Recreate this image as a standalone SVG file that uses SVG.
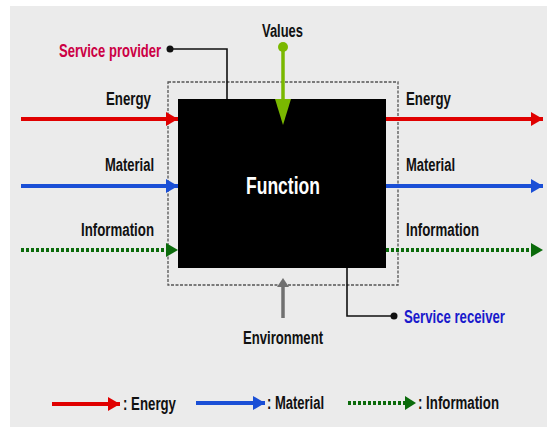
<svg xmlns="http://www.w3.org/2000/svg" width="554" height="427" viewBox="0 0 554 427">
<defs>
<style>
text{font-family:"Liberation Sans",Arial,sans-serif;font-weight:bold;font-size:18px;fill:#111}
.red{stroke:#e00000;stroke-width:4;fill:none}
.blue{stroke:#1a4fd6;stroke-width:4;fill:none}
.grn{stroke:#0b6b0b;stroke-width:4;stroke-dasharray:3,2;fill:none}
.thin{stroke:#111;stroke-width:1.6;fill:none}
</style>
<marker id="ar" markerUnits="userSpaceOnUse" markerWidth="12" markerHeight="14" refX="12" refY="7" orient="auto"><path d="M0,0 L12,7 L0,14 z" fill="#e00000"/></marker>
<marker id="ab" markerUnits="userSpaceOnUse" markerWidth="12" markerHeight="14" refX="12" refY="7" orient="auto"><path d="M0,0 L12,7 L0,14 z" fill="#1a4fd6"/></marker>
</defs>
<rect x="0" y="0" width="554" height="427" fill="#fff"/>
<rect x="10" y="6" width="537" height="421" fill="#ebebeb"/>

<g id="boundary"><rect x="168" y="82" width="230" height="203" fill="none" stroke="#555" stroke-width="1.3" stroke-dasharray="3,1.5"/></g>
<g id="function"><rect x="178" y="99" width="208" height="169" fill="#000"/>
<text x="246" y="194" textLength="74" lengthAdjust="spacingAndGlyphs" style="fill:#fff;font-size:23px">Function</text></g>

<g id="connectors">
<line class="red" x1="21" y1="119" x2="178" y2="119" marker-end="url(#ar)"/>
<line class="red" x1="386" y1="119" x2="543" y2="119" marker-end="url(#ar)"/>
<line class="blue" x1="21" y1="186" x2="178" y2="186" marker-end="url(#ab)"/>
<line class="blue" x1="386" y1="186" x2="543" y2="186" marker-end="url(#ab)"/>
<line class="grn" x1="21" y1="250" x2="167" y2="250"/>
<path d="M166,243 L178,250 L166,257 z" fill="#0b6b0b"/>
<line class="grn" x1="386" y1="250" x2="532" y2="250"/>
<path d="M531,243 L543,250 L531,257 z" fill="#0b6b0b"/>
<polyline class="thin" points="170,49 227,49 227,99"/>
<circle cx="170" cy="49" r="3.5" fill="#111"/>
<line x1="283" y1="47" x2="283" y2="102" stroke="#7ab800" stroke-width="3.5"/>
<circle cx="283" cy="47" r="5" fill="#7ab800"/>
<path d="M275,99 L291,99 L283,125 z" fill="#7ab800"/>
<line x1="283" y1="318" x2="283" y2="286" stroke="#707070" stroke-width="3.5"/>
<path d="M277,287 L283,278 L289,287 z" fill="#707070"/>
<polyline class="thin" points="347,268 347,316 393,316"/>
<circle cx="394" cy="316" r="3.5" fill="#111"/>
</g>

<g id="labels">
<text x="106" y="105" textLength="45" lengthAdjust="spacingAndGlyphs">Energy</text>
<text x="105" y="171" textLength="49" lengthAdjust="spacingAndGlyphs">Material</text>
<text x="81" y="236" textLength="73" lengthAdjust="spacingAndGlyphs">Information</text>
<text x="406" y="105" textLength="45" lengthAdjust="spacingAndGlyphs">Energy</text>
<text x="406" y="171" textLength="49" lengthAdjust="spacingAndGlyphs">Material</text>
<text x="406" y="236" textLength="73" lengthAdjust="spacingAndGlyphs">Information</text>
<text x="59" y="57" textLength="102" lengthAdjust="spacingAndGlyphs" style="fill:#cc0044">Service provider</text>
<text x="262" y="37" textLength="41" lengthAdjust="spacingAndGlyphs">Values</text>
<text x="243" y="344" textLength="80" lengthAdjust="spacingAndGlyphs">Environment</text>
<text x="404" y="323" textLength="101" lengthAdjust="spacingAndGlyphs" style="fill:#1a1acc">Service receiver</text>
</g>

<g id="legend">
<line class="red" x1="52" y1="404" x2="120" y2="404" marker-end="url(#ar)"/>
<text x="123" y="410" textLength="53" lengthAdjust="spacingAndGlyphs">: Energy</text>
<line class="blue" x1="196" y1="403" x2="265" y2="403" marker-end="url(#ab)"/>
<text x="267" y="409" textLength="57" lengthAdjust="spacingAndGlyphs">: Material</text>
<line class="grn" x1="348" y1="403" x2="406" y2="403"/>
<path d="M405,396 L416,403 L405,410 z" fill="#0b6b0b"/>
<text x="418" y="409" textLength="81" lengthAdjust="spacingAndGlyphs">: Information</text>
</g>
</svg>
